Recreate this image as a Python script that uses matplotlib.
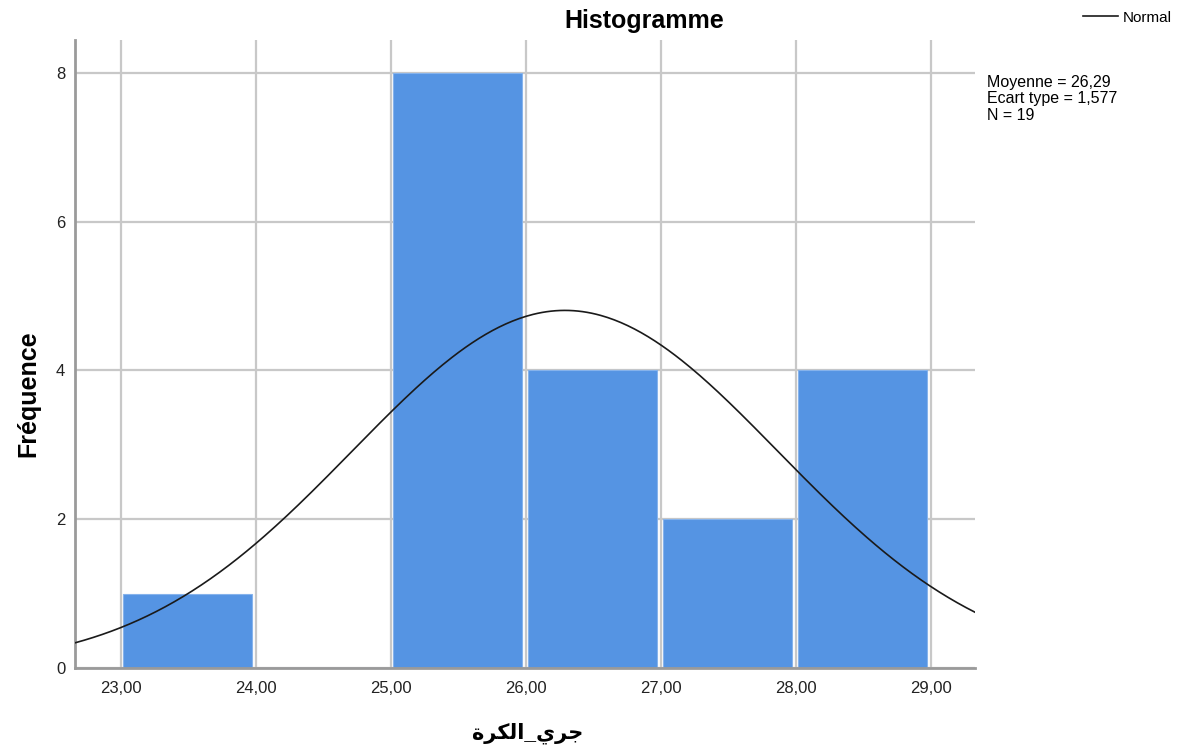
import numpy as np
import matplotlib
matplotlib.use('Agg')
import matplotlib.pyplot as plt

plt.rcParams['font.family'] = ['Liberation Sans', 'DejaVu Sans']

# Histogram of the ball-run times
bin_edges = [23, 24, 25, 26, 27, 28, 29]
counts = [1, 0, 8, 4, 2, 4]
mean = 26.29
std = 1.577
n = 19
xticks = [23, 24, 25, 26, 27, 28, 29]
xtick_labels = ['23,00', '24,00', '25,00', '26,00', '27,00', '28,00', '29,00']
yticks = [0, 2, 4, 6, 8]

# "جري_الكرة" written with Arabic presentation forms in visual order
xlabel_ar = '\uFE93\uFEAE\uFEDC\uFEDF\uFE8D_\uFEF1\uFEAE\uFE9F'

fig = plt.figure(figsize=(11.82, 7.49), dpi=100)
ax = fig.add_axes([0.0635, 0.108, 0.7615, 0.8386])

# bars are drawn slightly narrower than the bin so the grid shows between them
lefts = np.array(bin_edges[:-1])
widths = np.diff(bin_edges)
ax.bar(lefts + 0.015 * widths, counts, width=0.955 * widths, align='edge',
       color='#5594E3', edgecolor='#86B3EC', linewidth=0.8, zorder=2)

# Normal curve scaled to counts
xs = np.linspace(22.66, 29.33, 400)
bw = widths[0]
ys = n * bw / (std * np.sqrt(2 * np.pi)) * np.exp(-0.5 * ((xs - mean) / std) ** 2)
line, = ax.plot(xs, ys, color='#1a1a1a', linewidth=1.2, zorder=3, label='Normal')

ax.set_xlim(22.66, 29.33)
ax.set_ylim(0, 8.44)
ax.set_xticks(xticks)
ax.set_xticklabels(xtick_labels)
ax.set_yticks(yticks)
ax.tick_params(length=0, labelsize=12, colors='#222222')
ax.tick_params(axis='x', pad=9)
ax.tick_params(axis='y', pad=7)

ax.grid(True, color='#C8C8C8', linewidth=1.6, zorder=0)
ax.set_axisbelow(True)
for side in ['top', 'right']:
    ax.spines[side].set_visible(False)
for side in ['left', 'bottom']:
    ax.spines[side].set_color('#9A9A9A')
    ax.spines[side].set_linewidth(2)

fig.text(0.545, 0.972, 'Histogramme', ha='center', va='center',
         fontsize=18, fontweight='bold')
fig.text(0.024, 0.474, 'Fréquence', ha='center', va='center', rotation=90,
         fontsize=18, fontweight='bold')
fig.text(0.446, 0.021, xlabel_ar, ha='center', va='center',
         fontsize=15, fontweight='bold')

fig.text(0.835, 0.9, 'Moyenne = 26,29\nEcart type = 1,577\nN = 19',
         ha='left', va='top', fontsize=11.5, linespacing=1.12)

fig.legend(handles=[line], loc='upper right', bbox_to_anchor=(1.0, 1.0),
           frameon=False, fontsize=11, handlelength=2.3, handletextpad=0.3,
           borderaxespad=0.3)

fig.savefig('out.png', dpi=100)
